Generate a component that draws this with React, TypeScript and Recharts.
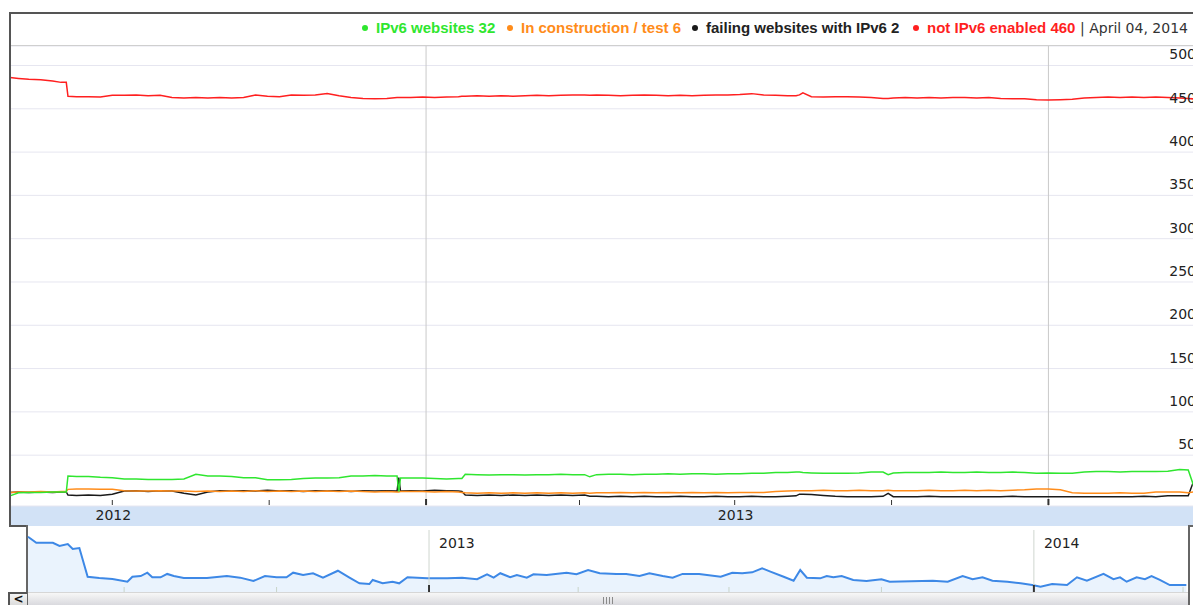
import React from 'react';
import { LineChart, Line, XAxis, YAxis, CartesianGrid, ReferenceLine, AreaChart, Area } from 'recharts';

// Day offsets (day 1 = May 1, 2012; day 703 = April 4, 2014)
const days = [
  1, 6, 12, 19, 26, 31, 34, 35, 40, 47,
  54, 61, 68, 75, 82, 89, 96, 103, 110, 117,
  124, 131, 138, 145, 152, 159, 166, 173, 180, 187,
  194, 201, 208, 215, 222, 228, 229, 230, 236, 243,
  250, 257, 264, 266, 268, 275, 282, 289, 296, 303,
  310, 317, 324, 331, 338, 341, 345, 352, 359, 366,
  373, 380, 387, 394, 401, 408, 415, 422, 429, 436,
  443, 450, 457, 462, 464, 466, 471, 478, 485, 492,
  499, 506, 513, 516, 519, 526, 533, 540, 547, 554,
  561, 568, 575, 582, 589, 596, 603, 610, 617, 624,
  631, 638, 645, 652, 659, 666, 673, 680, 687, 692,
  697, 702, 703,
];

const notIPv6Enabled = [
  486, 485, 484, 483.5, 482, 480.5, 480.5, 464.5, 464, 464,
  463.5, 465.5, 465.5, 466, 465, 465.5, 463, 462.5, 463, 462.5,
  463, 462.5, 463, 466, 464.5, 464, 466, 465.5, 466, 467.5,
  465, 463, 462, 461.5, 462, 463, 463, 463, 463, 463.5,
  463, 463.5, 464, 464.5, 464.5, 465, 464.5, 465, 464.5, 465,
  465.5, 465, 465.5, 466, 466, 465.5, 466, 465.5, 465, 465.5,
  466, 465.5, 465, 465.5, 465, 465.5, 466, 466, 466.5, 467.5,
  466, 465.5, 465, 465, 466, 468.5, 464, 463.5, 464, 464,
  463.5, 463, 462, 462, 462.5, 463, 462.5, 463, 462.5, 463,
  463, 462.5, 463, 462, 461.5, 461.5, 460.5, 460, 460.5, 461,
  462.5, 463, 463.5, 463, 463.5, 463, 463.5, 463, 462.5, 462,
  461, 460, 460,
];

const ipv6Websites = [
  3, 6.5, 7, 7, 7.5, 7.5, 7.5, 26, 25.5, 25.5,
  24.5, 24, 22.5, 22.5, 22, 22, 22, 22.5, 28, 26,
  26, 25.5, 24, 24, 21.5, 21.5, 22, 23, 23.5, 23.5,
  24, 26, 26, 26.5, 26, 26, 8, 23.5, 23.5, 23.5,
  23, 22.5, 23, 23, 28, 27.5, 27, 27.5, 27.5, 27,
  27.5, 27.5, 28, 27.5, 27.5, 25, 27.5, 28, 28, 27.5,
  28, 28, 28.5, 28, 28.5, 28.5, 28, 28.5, 28.5, 29,
  29, 30, 30, 30.5, 30.5, 30, 29.5, 29, 29, 29,
  29.5, 30.5, 30.5, 27.5, 29.5, 30, 30, 30, 30.5, 30,
  30, 30.5, 30, 30, 30.5, 30, 29, 29.5, 29, 29,
  30.5, 31, 31, 30.5, 31, 31, 31, 31.5, 33.5, 33,
  4, 31, 32,
];

const inConstruction = [
  7, 7.5, 7.5, 8, 7.5, 8, 8, 10.5, 11, 11,
  10.5, 10.5, 9, 8.5, 8.5, 9, 8.5, 8.5, 8, 8.5,
  8, 8.5, 8, 9, 8, 8.5, 8, 8.5, 8, 8.5,
  8, 8.5, 8, 7.5, 8, 7.5, 7.5, 8, 8, 8,
  7.5, 8, 7.5, 7, 6.5, 6, 6.5, 6, 6.5, 6,
  6.5, 6, 6.5, 6, 6.5, 6, 6.5, 6.5, 7, 6.5,
  7, 6.5, 7, 6.5, 7, 6.5, 7, 6.5, 7, 7,
  7, 8, 8.5, 9, 9, 9, 9, 9.5, 9, 9,
  9.5, 9, 9, 9.5, 9, 9, 9, 9.5, 9, 9,
  9.5, 9, 9.5, 9, 9.5, 10, 11, 11, 10, 6.5,
  6, 6, 6, 6.5, 6, 6, 7.5, 7.5, 7.5, 6.5,
  8, 6, 6,
];

const failingIPv6 = [
  7, 7.5, 7, 7.5, 7, 7.5, 7.5, 4, 3.5, 4,
  3.5, 5, 8.5, 9, 8, 9, 8.5, 6, 4, 7.5,
  9, 8.5, 9, 8.5, 9.5, 8.5, 9, 8, 9, 8.5,
  9, 8, 9, 8.5, 9, 8.5, 24, 8.5, 9, 8.5,
  9.5, 9, 8.5, 8, 4, 3.5, 4, 3.5, 4, 3.5,
  4, 3.5, 4, 3.5, 4, 2.5, 2.5, 2, 2.5, 2,
  2.5, 2, 2, 2.5, 2, 2, 2.5, 2, 2, 2.5,
  2, 2, 2.5, 3, 5, 5, 4.5, 3.5, 2.5, 2,
  2, 2, 2.5, 6, 2, 2, 2, 2.5, 2, 2,
  2, 2, 2, 2, 2.5, 2, 2, 2, 2, 2,
  2, 2, 2, 2, 2, 2.5, 2, 3, 3, 3,
  30, 2, 2,
];

// Overview (navigator) series: weekly "not IPv6 enabled"
const overviewDays = [
  3, 8, 18, 22, 27, 30, 34, 39, 46, 54,
  63, 66, 71, 75, 78, 83, 87, 91, 97, 111,
  123, 131, 139, 146, 153, 159, 163, 169, 175, 181,
  190, 197, 203, 209, 211, 217, 223, 227, 232, 244,
  256, 265, 274, 280, 284, 288, 294, 298, 304, 308,
  316, 328, 334, 341, 348, 358, 364, 372, 378, 386,
  392, 398, 408, 421, 428, 434, 440, 446, 451, 459,
  465, 469, 473, 481, 485, 489, 494, 501, 509, 518,
  523, 549, 558, 567, 573, 579, 585, 594, 602, 609,
  614, 621, 630, 636, 642, 652, 658, 662, 666, 672,
  677, 681, 686, 692, 702,
];
const overviewNotEnabled = [
  486.2, 482.8, 482.8, 481.0, 482.1, 479.3, 479.8, 463.6, 462.9, 462.3,
  460.8, 463.6, 464.0, 465.9, 463.3, 463.3, 465.2, 464.0, 462.9, 462.9,
  464.0, 463.1, 461.2, 464.0, 463.3, 463.3, 465.9, 464.6, 465.6, 463.1,
  467.0, 463.1, 459.9, 459.5, 461.8, 459.9, 460.8, 459.9, 463.3, 462.7,
  462.7, 463.1, 462.2, 465.0, 463.1, 465.6, 463.3, 464.6, 463.1, 465.0,
  464.6, 465.9, 465.0, 467.4, 465.6, 465.2, 465.2, 464.0, 465.6, 464.0,
  463.1, 465.2, 465.2, 463.6, 465.9, 465.6, 466.1, 468.4, 466.5, 463.6,
  461.4, 467.4, 463.1, 462.7, 464.0, 463.3, 464.0, 461.8, 461.2, 462.2,
  460.8, 461.4, 460.8, 464.0, 462.2, 463.3, 461.4, 460.8, 459.9, 458.9,
  458.0, 459.5, 458.9, 463.3, 461.4, 465.2, 462.2, 463.3, 460.8, 463.3,
  462.2, 464.0, 461.8, 458.9, 458.9,
];

const yTicks = [50, 100, 150, 200, 250, 300, 350, 400, 450, 500];
const quarterTicks = [61, 153, 245, 335, 426, 518, 610, 700];
const yearStartTicks = [245, 610];
const mainYearLabels: Record<number, string> = { 61: '2012', 426: '2013' };
const overviewYearLabels: Record<number, string> = { 245: '2013', 610: '2014' };

const legendNames = ['IPv6 websites', 'In construction / test', 'failing websites with IPv6', 'not IPv6 enabled'];
const legendValues = [32, 6, 2, 460];
const legendDate = 'April 04, 2014';

const GREEN = '#2fe62f';
const ORANGE = '#ff8c1a';
const BLACK = '#1a1a1a';
const RED = '#ff1f1f';
const legendColors = [GREEN, ORANGE, BLACK, RED];
const legendDotX = [365, 510, 695, 916];

const mainData = days.map((d, i) => ({
  d,
  ipv6: ipv6Websites[i],
  construction: inConstruction[i],
  failing: failingIPv6[i],
  notEnabled: notIPv6Enabled[i],
}));
const overviewData = overviewDays.map((d, i) => ({ d, v: overviewNotEnabled[i] }));

const AXIS_FONT = '"DejaVu Sans", Verdana, sans-serif';

const MainXTick = (props: any) => {
  const { x, payload } = props;
  const v = payload.value;
  const isYear = yearStartTicks.includes(v);
  const label = mainYearLabels[v];
  return (
    <g>
      <line x1={x} x2={x} y1={isYear ? 499 : 500} y2={505} stroke="#333" strokeWidth={isYear ? 2 : 1} />
      {label ? (
        <text x={x + 1} y={520} textAnchor="middle" fontSize={14} fontFamily={AXIS_FONT} fill="#222">
          {label}
        </text>
      ) : null}
    </g>
  );
};

const YTick = (props: any) => {
  const { y, payload } = props;
  return (
    <text x={1196} y={y - 6} textAnchor="end" fontSize={14} fontFamily={AXIS_FONT} fill="#222">
      {payload.value}
    </text>
  );
};

const NavXTick = (props: any) => {
  const { x, payload } = props;
  const v = payload.value;
  const isYear = yearStartTicks.includes(v);
  const label = overviewYearLabels[v];
  return (
    <g>
      <line x1={x} x2={x} y1={isYear ? 58 : 60} y2={65} stroke={isYear ? '#333' : '#c8d4c8'} strokeWidth={isYear ? 2 : 1} />
      {label ? (
        <text x={x + 10} y={21} textAnchor="start" fontSize={14} fontFamily={AXIS_FONT} fill="#222">
          {label}
        </text>
      ) : null}
    </g>
  );
};

const abs = (s: React.CSSProperties): React.CSSProperties => ({ position: 'absolute', ...s });

export default function App() {
  return (
    <div style={abs({ left: 0, top: 0, width: 1193, height: 605, overflow: 'hidden', background: '#fff' })}>
      {/* x-axis band */}
      <div style={abs({ left: 11, top: 506, width: 1190, height: 20, background: '#d2e2f6' })} />

      {/* main chart */}
      <div style={abs({ left: 0, top: 0 })}>
        <LineChart width={1250} height={527} data={mainData} margin={{ top: 46, right: 13, bottom: 0, left: 10 }}>
          <CartesianGrid vertical={false} stroke="#e6e6f0" strokeWidth={1} />
          <XAxis
            dataKey="d"
            type="number"
            domain={[1, 703]}
            ticks={quarterTicks}
            interval={0}
            axisLine={false}
            tickLine={false}
            height={21}
            tick={<MainXTick />}
          />
          <YAxis
            orientation="right"
            type="number"
            width={30}
            domain={[-8.7, 522.5]}
            ticks={yTicks}
            interval={0}
            allowDataOverflow
            axisLine={false}
            tickLine={false}
            tick={<YTick />}
          />
          {yearStartTicks.map((t) => (
            <ReferenceLine key={t} x={t} stroke="#c9c9c9" strokeWidth={1} />
          ))}
          <Line type="linear" dataKey="notEnabled" stroke={RED} strokeWidth={1.5} dot={false} activeDot={false} isAnimationActive={false} />
          <Line type="linear" dataKey="failing" stroke={BLACK} strokeWidth={1.5} dot={false} activeDot={false} isAnimationActive={false} />
          <Line type="linear" dataKey="construction" stroke={ORANGE} strokeWidth={1.5} dot={false} activeDot={false} isAnimationActive={false} />
          <Line type="linear" dataKey="ipv6" stroke={GREEN} strokeWidth={1.5} dot={false} activeDot={false} isAnimationActive={false} />
        </LineChart>
      </div>

      {/* frame */}
      <div style={abs({ left: 9, top: 12, width: 1190, height: 2, background: '#555' })} />
      <div style={abs({ left: 9, top: 12, width: 2, height: 515, background: '#555' })} />
      <div style={abs({ left: 11, top: 45, width: 1190, height: 1, background: '#cfcfcf' })} />
      <div style={abs({ left: 9, top: 525, width: 19, height: 2, background: '#555' })} />
      <div style={abs({ left: 26, top: 525, width: 2, height: 80, background: '#666' })} />
      <div style={abs({ left: 1188, top: 525, width: 2, height: 80, background: '#666' })} />
      <div style={abs({ left: 1188, top: 525, width: 10, height: 2, background: '#666' })} />

      {/* legend */}
      {legendNames.map((name, i) => (
        <React.Fragment key={name}>
          <div
            style={abs({
              left: legendDotX[i] - 3,
              top: 25,
              width: 6,
              height: 6,
              borderRadius: 3,
              background: legendColors[i],
            })}
          />
          <span
            style={abs({
              left: legendDotX[i] + 11,
              top: 19,
              fontFamily: '"Liberation Sans", Arial, sans-serif',
              fontWeight: 'bold',
              fontSize: 15,
              lineHeight: '18px',
              whiteSpace: 'nowrap',
              color: i === 2 ? '#222' : legendColors[i],
            })}
          >
            {name} {legendValues[i]}
          </span>
        </React.Fragment>
      ))}
      <span
        style={abs({
          left: 1080,
          top: 19,
          fontFamily: AXIS_FONT,
          fontSize: 14,
          lineHeight: '18px',
          whiteSpace: 'nowrap',
          color: '#333',
        })}
      >
        |&nbsp;{legendDate}
      </span>

      {/* overview navigator */}
      <div style={abs({ left: 0, top: 527 })}>
        <AreaChart width={1193} height={75} data={overviewData} margin={{ top: 3, right: 5, bottom: 0, left: 28 }}>
          <XAxis
            dataKey="d"
            type="number"
            domain={[3, 703]}
            ticks={quarterTicks}
            interval={0}
            axisLine={false}
            tickLine={false}
            height={10}
            tick={<NavXTick />}
          />
          <YAxis hide type="number" domain={[455, 490]} allowDataOverflow />
          <Area
            type="linear"
            dataKey="v"
            stroke="#3d88e6"
            strokeWidth={2}
            fill="#eaf3fd"
            fillOpacity={1}
            dot={false}
            activeDot={false}
            isAnimationActive={false}
          />
          {yearStartTicks.map((t) => (
            <ReferenceLine key={t} x={t} stroke="#cfd6cf" strokeWidth={1} />
          ))}
        </AreaChart>
      </div>

      {/* scrollbar */}
      <div
        style={abs({
          left: 28,
          top: 592,
          width: 1160,
          height: 13,
          background: 'linear-gradient(#f7f7f7, #d9d9de)',
          borderTop: '1px solid #d6d6d6',
          boxSizing: 'border-box',
        })}
      />
      <div
        style={abs({
          left: 8,
          top: 592,
          width: 19,
          height: 13,
          boxSizing: 'border-box',
          borderLeft: '2px solid #555',
          borderTop: '2px solid #555',
          background: 'linear-gradient(#f4f4f4, #dcdcdc)',
          fontFamily: AXIS_FONT,
          fontWeight: 'bold',
          fontSize: 12,
          lineHeight: '11px',
          textAlign: 'center',
          color: '#111',
        })}
      >
        &lt;
      </div>
      {[603, 606, 609, 612].map((gx) => (
        <div key={gx} style={abs({ left: gx, top: 597, width: 1, height: 7, background: '#8a8a8a' })} />
      ))}
    </div>
  );
}
